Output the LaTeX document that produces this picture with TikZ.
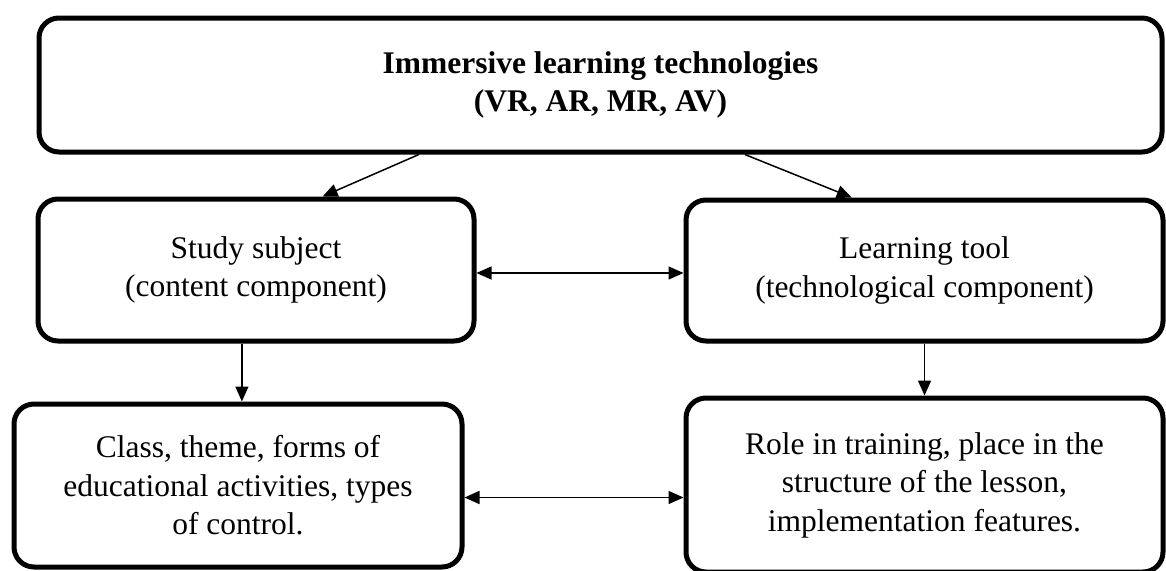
\documentclass[tikz,border=0pt]{standalone}
\usepackage{fontspec}
\setmainfont{Liberation Serif}
\usetikzlibrary{calc,arrows.meta}
\begin{document}
\begin{tikzpicture}[x=1pt,y=-1pt,
  box/.style={draw,line width=5pt,rounded corners=20pt,align=center,inner sep=0pt,
    font=\fontsize{31.5}{38.5}\selectfont},
  conn/.style={line width=1.5pt,-{Triangle[length=15pt,width=13pt]}},
  biconn/.style={line width=1.5pt,{Triangle[length=15pt,width=13pt]}-{Triangle[length=15pt,width=13pt]}}]
\useasboundingbox (0,0) rectangle (1166,570);
\node[box,minimum width=1123pt,minimum height=134pt] (top) at (600.5,85)
  {\textbf{Immersive learning technologies}\\\textbf{(VR, AR, MR, AV)}};
\node[box,minimum width=436pt,minimum height=142pt] (midL) at (256,270)
  {Study subject\\(content component)};
\node[box,minimum width=477pt,minimum height=141pt] (midR) at (924.5,270.5)
  {Learning tool\\(technological component)};
\node[box,minimum width=448pt,minimum height=163pt] (botL) at (238,485.5)
  {Class, theme, forms of\\educational activities, types\\of control.};
\node[box,minimum width=477pt,minimum height=174pt] (botR) at (924.5,485)
  {Role in training, place in the\\structure of the lesson,\\implementation features.};
\draw[conn] ($(top.south west)!.339!(top.south east)$) -- ($(midL.north west)!.651!(midL.north east)$);
\draw[conn] ($(top.south west)!.628!(top.south east)$) -- ($(midR.north west)!.349!(midR.north east)$);
\coordinate (vl) at ($(midL.south west)!.468!(midL.south east)$);
\draw[conn] (vl) -- (vl |- botL.north);
\draw[conn] (midR.south) -- (midR.south |- botR.north);
\coordinate (hm) at ($(midL.east)+(0,3)$);
\draw[biconn] (hm) -- (hm -| midR.west);
\coordinate (hb) at ($(botL.east)+(0,12)$);
\draw[biconn] (hb) -- (hb -| botR.west);
\end{tikzpicture}
\end{document}
